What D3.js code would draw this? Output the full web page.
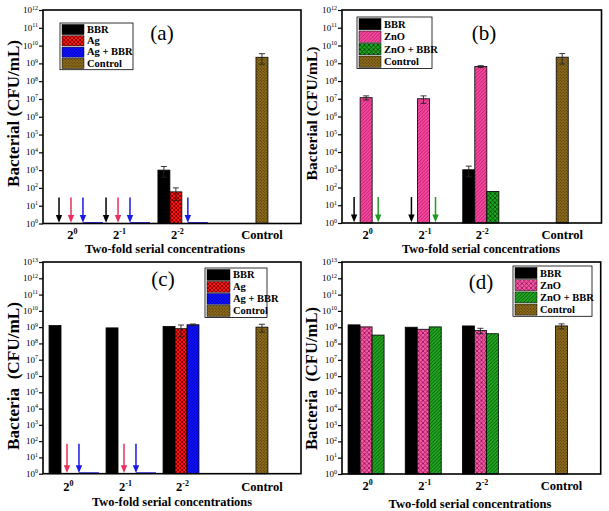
<!DOCTYPE html>
<html><head><meta charset="utf-8">
<script src="https://cdn.jsdelivr.net/npm/d3@7"></script>
<style>body{margin:0;background:#fff} svg{display:block} text{font-family:"Liberation Serif","Times New Roman",serif;fill:#000}</style>
</head><body><svg id="c" width="609" height="511"></svg>
<script>
// ---------- data ----------
const categories = ["2^0", "2^-1", "2^-2", "Control"];
const tickBase = ["2", "2", "2", "Control"];
const tickExp = ["0", "-1", "-2", ""];
const yExpAB = [0,1,2,3,4,5,6,7,8,9,10,11,12];
const yExpCD = [0,1,2,3,4,5,6,7,8,9,10,11,12,13];
// 0 = not detected (arrow), null = not measured
const a_BBR = [0, 0, 1000, null],        a_BBR_err = [0, 0, 600, null];
const a_Ag = [0, 0, 60, null],           a_Ag_err = [0, 0, 40, null];
const a_AgBBR = [0, 0, 0, null],         a_AgBBR_err = [0, 0, 0, null];
const a_Control = [null, null, null, 2.2e9], a_Control_err = [null, null, null, 1.3e9];

const b_BBR = [0, 0, 1000, null],        b_BBR_err = [0, 0, 600, null];
const b_ZnO = [1.15e7, 1.0e7, 6.5e8, null], b_ZnO_err = [0.3e7, 0.45e7, 0.8e8, null];
const b_ZnOBBR = [0, 0, 60, null],       b_ZnOBBR_err = [0, 0, 0, null];
const b_Control = [null, null, null, 2.2e9], b_Control_err = [null, null, null, 1.3e9];

const c_BBR = [1.25e9, 9e8, 1.1e9, null], c_BBR_err = [0, 0, 0, null];
const c_Ag = [0, 0, 8e8, null],           c_Ag_err = [0, 0, 5.5e8, null];
const c_AgBBR = [0, 0, 1.4e9, null],      c_AgBBR_err = [0, 0, 1.5e8, null];
const c_Control = [null, null, null, 1.0e9], c_Control_err = [null, null, null, 0.5e9];

const d_BBR = [1.4e9, 1.0e9, 1.2e9, null],  d_BBR_err = [0, 0, 0, null];
const d_ZnO = [1.05e9, 7.5e8, 6.3e8, null], d_ZnO_err = [0, 0, 2.3e8, null];
const d_ZnOBBR = [3.3e8, 1.05e9, 4e8, null], d_ZnOBBR_err = [0, 0, 0, null];
const d_Control = [null, null, null, 1.2e9], d_Control_err = [null, null, null, 0.4e9];

// ---------- styles ----------
const svg = d3.select("#c");
const defs = svg.append("defs");
function makePattern(id, bg, kind, ink, size, sw) {
  const p = defs.append("pattern").attr("id", id).attr("patternUnits", "userSpaceOnUse")
    .attr("width", size).attr("height", size);
  p.append("rect").attr("width", size).attr("height", size).attr("fill", bg);
  const s = size;
  if (kind === "diag" || kind === "cross")
    p.append("path").attr("d", `M0,${s} L${s},0 M${-s/2},${s/2} L${s/2},${-s/2} M${s/2},${s*1.5} L${s*1.5},${s/2}`)
      .attr("stroke", ink).attr("stroke-width", sw);
  if (kind === "cross")
    p.append("path").attr("d", `M0,0 L${s},${s} M${-s/2},${s/2} L${s/2},${s*1.5} M${s/2},${-s/2} L${s*1.5},${s/2}`)
      .attr("stroke", ink).attr("stroke-width", sw);
  if (kind === "dots") {
    p.append("circle").attr("cx", s*0.25).attr("cy", s*0.25).attr("r", sw).attr("fill", ink);
    p.append("circle").attr("cx", s*0.75).attr("cy", s*0.75).attr("r", sw).attr("fill", ink);
  }
  return `url(#${id})`;
}
const F = {
  black: "#000",
  red: makePattern("pRed", "#ff1010", "cross", "#5a0000", 4, 0.7),
  blue: makePattern("pBlue", "#1010ff", "diag", "#00008a", 3, 0.6),
  brown: makePattern("pBrown", "#8c6a1c", "dots", "#3e2c06", 3, 0.55),
  pinkDiag: makePattern("pPinkD", "#f5479f", "diag", "#a81a5c", 3.5, 0.8),
  pinkCross: makePattern("pPinkC", "#f55aa8", "cross", "#8a1048", 4.5, 0.8),
  greenCross: makePattern("pGreenC", "#1fa51f", "cross", "#033a03", 4.5, 0.8),
  greenDiag: makePattern("pGreenD", "#22a522", "diag", "#034a03", 3.5, 0.8)
};

// layout: group centres on the x scale
const groupPos = [1, 2, 3, 4.42];
const groupPosA = [1.07, 1.895, 2.91, 4.42];
const barW = 0.21;

const panels = [
  { box: [43, 10, 258, 213.5], gp: groupPosA, yExp: yExpAB, label: "(a)", labelXY: [162, 40],
    yTitle: "Bacterial (CFU/mL)", yTitleXY: [14, 113.5], yTitleLen: 147, tickY: 238.5,
    xTitleXY: [165, 252.5], xTitleLen: 160,
    arrowLen: 26, legend: { x: 60, y: 23, w: 73, rowH: 11.3, sw: 22 },
    series: [
      { name: "BBR", v: a_BBR, e: a_BBR_err, fill: F.black, arrow: "#000" },
      { name: "Ag", v: a_Ag, e: a_Ag_err, fill: F.red, arrow: "#e8305a" },
      { name: "Ag + BBR", v: a_AgBBR, e: a_AgBBR_err, fill: F.blue, arrow: "#1a1ae6", base: true },
      { name: "Control", v: a_Control, e: a_Control_err, fill: F.brown, control: true } ] },
  { box: [342, 10, 259.5, 213], gp: groupPos, yExp: yExpAB, label: "(b)", labelXY: [484, 40],
    yTitle: "Bacterial (CFU/mL)", yTitleXY: [312, 113.5], yTitleLen: 134, tickY: 238.5,
    xTitleXY: [481, 252.5], xTitleLen: 158,
    arrowLen: 26, legend: { x: 357, y: 17, w: 75, rowH: 12.5, sw: 22 },
    series: [
      { name: "BBR", v: b_BBR, e: b_BBR_err, fill: F.black, arrow: "#000" },
      { name: "ZnO", v: b_ZnO, e: b_ZnO_err, fill: F.pinkDiag, arrow: "#e8307a" },
      { name: "ZnO + BBR", v: b_ZnOBBR, e: b_ZnOBBR_err, fill: F.greenCross, arrow: "#1f9a1f" },
      { name: "Control", v: b_Control, e: b_Control_err, fill: F.brown, control: true } ] },
  { box: [43, 262, 258, 211.7], gp: groupPos, yExp: yExpCD, label: "(c)", labelXY: [163, 286],
    yTitle: "Bacteria\u00A0 (CFU/mL)", yTitleXY: [14, 376], yTitleLen: 148, tickY: 490.5,
    xTitleXY: [172, 505.5], xTitleLen: 160,
    arrowLen: 30, legend: { x: 205, y: 268, w: 62, rowH: 12, sw: 23 },
    series: [
      { name: "BBR", v: c_BBR, e: c_BBR_err, fill: F.black, arrow: "#000" },
      { name: "Ag", v: c_Ag, e: c_Ag_err, fill: F.red, arrow: "#e8305a" },
      { name: "Ag + BBR", v: c_AgBBR, e: c_AgBBR_err, fill: F.blue, arrow: "#1a1ae6", base: true },
      { name: "Control", v: c_Control, e: c_Control_err, fill: F.brown, control: true } ] },
  { box: [342, 262, 258.7, 212], gp: groupPos, yExp: yExpCD, label: "(d)", labelXY: [481, 289],
    yTitle: "Bacteria\u00A0 (CFU/mL)", yTitleXY: [312, 378.5], yTitleLen: 143, tickY: 489.5,
    xTitleXY: [470, 508], xTitleLen: 163,
    arrowLen: 30, legend: { x: 513, y: 266, w: 79, rowH: 12.2, sw: 22 },
    series: [
      { name: "BBR", v: d_BBR, e: d_BBR_err, fill: F.black, arrow: "#000" },
      { name: "ZnO", v: d_ZnO, e: d_ZnO_err, fill: F.pinkCross, arrow: "#e8307a" },
      { name: "ZnO + BBR", v: d_ZnOBBR, e: d_ZnOBBR_err, fill: F.greenDiag, arrow: "#1f9a1f" },
      { name: "Control", v: d_Control, e: d_Control_err, fill: F.brown, control: true } ] }
];

function fitText(sel, target) {
  sel.attr("font-size", 10);
  const len = sel.node().getComputedTextLength();
  if (len > 0) sel.attr("font-size", (10 * target / len).toFixed(2));
}

panels.forEach(P => {
  const [x0, y0, w, h] = P.box;
  const gp = P.gp;
  const g = svg.append("g");
  const x = d3.scaleLinear().domain([0.579, 5.105]).range([x0, x0 + w]);
  const yMax = P.yExp[P.yExp.length - 1];
  const y = d3.scaleLog().domain([1, Math.pow(10, yMax)]).range([y0 + h, y0]);
  const yb = y(1);
  const bwPx = x(barW) - x(0);

  // bars
  P.series.forEach((s, k) => {
    s.v.forEach((val, i) => {
      if (val === null) return;
      const cx = s.control ? x(gp[i]) : x(gp[i] + (k - 1) * barW);
      if (val > 0) {
        g.append("rect").attr("x", cx - bwPx / 2).attr("y", y(val))
          .attr("width", bwPx).attr("height", yb - y(val))
          .attr("fill", s.fill).attr("stroke", "#000").attr("stroke-width", 0.8);
        const er = s.e[i];
        if (er > 0) {
          const lo = Math.max(1, val - er), hi = val + er;
          const eg = g.append("g").attr("stroke", "#222").attr("stroke-width", 0.9);
          eg.append("line").attr("x1", cx).attr("x2", cx).attr("y1", y(lo)).attr("y2", y(hi));
          eg.append("line").attr("x1", cx - 3).attr("x2", cx + 3).attr("y1", y(hi)).attr("y2", y(hi));
          eg.append("line").attr("x1", cx - 3).attr("x2", cx + 3).attr("y1", y(lo)).attr("y2", y(lo));
        }
      } else if (val === 0 && s.arrow) {
        if (s.base) g.append("line").attr("x1", cx).attr("x2", cx + 20).attr("y1", yb - 0.7).attr("y2", yb - 0.7)
          .attr("stroke", s.arrow).attr("stroke-width", 1.4);
        g.append("line").attr("x1", cx).attr("x2", cx).attr("y1", yb - P.arrowLen).attr("y2", yb - 7)
          .attr("stroke", s.arrow).attr("stroke-width", 1.5);
        g.append("path").attr("d", `M${cx - 3.2},${yb - 8.5} L${cx + 3.2},${yb - 8.5} L${cx},${yb - 0.8} Z`)
          .attr("fill", s.arrow);
      }
    });
  });

  // frame
  g.append("rect").attr("x", x0).attr("y", y0).attr("width", w).attr("height", h)
    .attr("fill", "none").attr("stroke", "#000").attr("stroke-width", 1.6);

  // y axis ticks + labels
  const yAxis = d3.axisLeft(y).tickValues(P.yExp.map(e => Math.pow(10, e))).tickSize(4).tickFormat("");
  const ya = g.append("g").attr("transform", `translate(${x0},0)`).call(yAxis);
  ya.select(".domain").remove();
  ya.selectAll("line").attr("stroke-width", 1.2);
  P.yExp.forEach(e => {
    const t = g.append("text").attr("x", x0 - 5).attr("y", y(Math.pow(10, e)) + 3)
      .attr("text-anchor", "end").attr("font-size", 9).attr("fill", "#111");
    t.append("tspan").text("10");
    t.append("tspan").attr("dy", -3.5).attr("font-size", 6).text(String(e));
  });

  // x labels
  categories.forEach((c, i) => {
    const t = g.append("text").attr("x", x(gp[i]) + (tickExp[i] ? 1.5 : 0)).attr("y", P.tickY)
      .attr("text-anchor", "middle").attr("font-size", 12.5).attr("font-weight", "bold").attr("fill", "#000");
    t.append("tspan").attr("fill", "#000").text(tickBase[i]);
    if (tickExp[i]) t.append("tspan").attr("dy", -5).attr("font-size", 8).attr("fill", "#000").text(tickExp[i]);
  });
  const xt = g.append("text").attr("x", P.xTitleXY[0]).attr("y", P.xTitleXY[1]).attr("text-anchor", "middle")
    .attr("font-weight", "bold").text("Two-fold serial concentrations");
  fitText(xt, P.xTitleLen);

  // y title
  const yt = g.append("text").attr("transform", `translate(${P.yTitleXY[0] + 5},${P.yTitleXY[1]}) rotate(-90)`)
    .attr("text-anchor", "middle").attr("font-weight", "bold").text(P.yTitle);
  fitText(yt, P.yTitleLen);

  // panel label
  g.append("text").attr("x", P.labelXY[0]).attr("y", P.labelXY[1]).attr("text-anchor", "middle")
    .attr("font-size", 21).text(P.label);

  // legend
  const L = P.legend;
  const n = P.series.length;
  g.append("rect").attr("x", L.x).attr("y", L.y).attr("width", L.w).attr("height", L.rowH * n + 1.5)
    .attr("fill", "#fff").attr("stroke", "#000").attr("stroke-width", 0.8);
  P.series.forEach((s, k) => {
    const ry = L.y + 1 + k * L.rowH;
    g.append("rect").attr("x", L.x + 2).attr("y", ry + 0.5).attr("width", L.sw).attr("height", L.rowH - 1.2)
      .attr("fill", s.fill).attr("stroke", "#000").attr("stroke-width", 0.5);
    g.append("text").attr("x", L.x + L.sw + 5).attr("y", ry + L.rowH * 0.78)
      .attr("font-size", 10.5).attr("font-weight", "bold").text(s.name);
  });
});
</script></body></html>
